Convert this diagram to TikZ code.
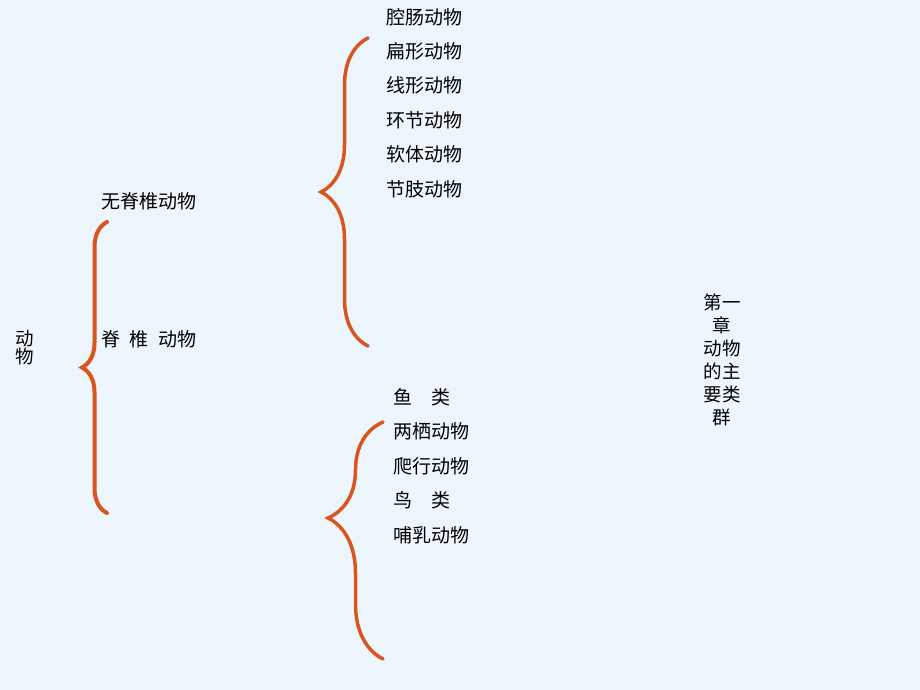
\documentclass[tikz,border=0pt]{standalone}
\usepackage{fontspec}
\setmainfont{Noto Sans CJK SC}
\usetikzlibrary{decorations.pathreplacing, positioning}
\definecolor{bgblue}{RGB}{238,246,253}
\definecolor{braceorange}{RGB}{217,84,30}

\begin{document}
\begin{tikzpicture}[x=1pt, y=-1pt,
    item/.style={anchor=west, inner sep=0pt, font=\fontsize{19}{22}\selectfont},
    bracket/.style={draw=braceorange, line width=3.5pt, line cap=round, decorate, decoration={brace, amplitude=#1}}]
    % Page
    \fill[bgblue] (0,0) rectangle (920,690);
    \useasboundingbox (0,0) rectangle (920,690);

    % Root
    \node[inner sep=0pt, align=center, font=\fontsize{18.5}{18}\selectfont] (root) at (25,348) {动\\物};

    % First level
    \node[item] (invert) at (101,201) {无脊椎动物};
    \node[item] (vert) at (101,339) {脊\hspace{0.5em}椎\hspace{0.5em}动物};

    % Invertebrate groups
    \foreach \name [count=\i from 0] in {腔肠动物, 扁形动物, 线形动物, 环节动物, 软体动物, 节肢动物}
        \node[item] (inv\i) at (386,17+34.4*\i) {\name};

    % Vertebrate groups
    \foreach \name [count=\i from 0] in {鱼\quad 类, 两栖动物, 爬行动物, 鸟\quad 类, 哺乳动物}
        \node[item] (ver\i) at (393,397+34.5*\i) {\name};

    % Braces
    \coordinate (lbot) at (107,513);
    \coordinate (ltop) at (107,222);
    \draw[bracket=25, line width=4pt] (lbot) -- (ltop);

    \coordinate (ibot) at (368,346);
    \coordinate (itop) at (368,38);
    \draw[bracket=47] (ibot) -- (itop);

    \coordinate (vbot) at (383,659);
    \coordinate (vtop) at (383,422);
    \draw[bracket=55, decoration={aspect=0.595}] (vbot) -- (vtop);

    % Title
    \node[inner sep=0pt, align=center, font=\fontsize{18.5}{23}\selectfont] (title) at (722,360) {第一\\章\\动物\\的主\\要类\\群};
\end{tikzpicture}
\end{document}
